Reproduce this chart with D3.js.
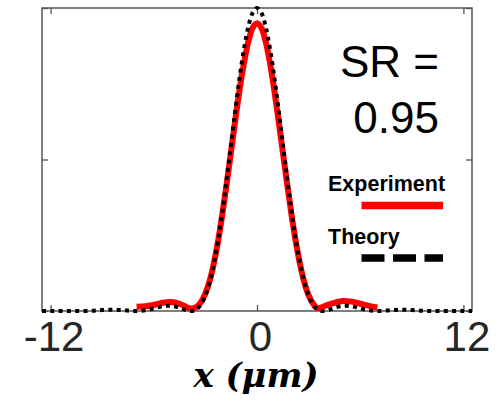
<!DOCTYPE html>
<html>
<head>
<meta charset="utf-8">
<script src="https://cdn.jsdelivr.net/npm/d3@7"></script>
<style>
  html, body { margin: 0; padding: 0; background: #fff; }
  svg { display: block; }
</style>
</head>
<body>
<svg id="chart" width="501" height="401"></svg>
<script>
// Intensity profile across the focal spot (normalised), x in micrometres
const theoryX = [-12.5, -12, -11.5, -11, -10.5, -10, -9.5, -9, -8.5, -8, -7.5, -7, -6.5, -6, -5.5, -5, -4.5, -4.25, -4, -3.75, -3.5, -3.25, -3, -2.75, -2.5, -2.25, -2, -1.75, -1.5, -1.25, -1, -0.75, -0.5, -0.25, 0,
  0.25, 0.5, 0.75, 1, 1.25, 1.5, 1.75, 2, 2.25, 2.5, 2.75, 3, 3.25, 3.5, 3.75, 4, 4.25, 4.5, 5, 5.5, 6, 6.5, 7, 7.5, 8, 8.5, 9, 9.5, 10, 10.5, 11, 11.5, 12, 12.5];
const theoryY = [0, 0, 0, 0, 0.0002, 0.0001, 0.0012, 0.003, 0.0041, 0.0034, 0.0013, 0, 0.0022, 0.0085, 0.0154, 0.0172, 0.0106, 0.0051, 0.0011, 0.0003, 0.0062, 0.022, 0.0511, 0.096, 0.1582, 0.2376, 0.3326, 0.4397, 0.5534, 0.6675, 0.7746, 0.8671, 0.9394, 0.9844, 1,
  0.9844, 0.9394, 0.8671, 0.7746, 0.6675, 0.5534, 0.4397, 0.3326, 0.2376, 0.1582, 0.096, 0.0511, 0.022, 0.0062, 0.0003, 0.0011, 0.0051, 0.0106, 0.0172, 0.0154, 0.0085, 0.0022, 0, 0.0013, 0.0034, 0.0041, 0.003, 0.0012, 0.0001, 0.0002, 0, 0, 0, 0];

const experimentX = [-7, -6.5, -6, -5.5, -5, -4.5, -4, -3.75, -3.5, -3.25, -3, -2.75, -2.5, -2.25, -2, -1.75, -1.5, -1.25, -1, -0.75, -0.5, -0.25, 0,
  0.25, 0.5, 0.75, 1, 1.25, 1.5, 1.75, 2, 2.25, 2.5, 2.75, 3, 3.25, 3.5, 3.75, 4, 4.5, 5, 5.5, 6, 6.5, 7];
const experimentY = [0.014, 0.016, 0.02, 0.027, 0.03, 0.024, 0.01, 0.008, 0.014, 0.03, 0.058, 0.1, 0.16, 0.235, 0.325, 0.425, 0.53, 0.635, 0.735, 0.82, 0.89, 0.935, 0.95,
  0.935, 0.89, 0.82, 0.73, 0.63, 0.525, 0.42, 0.32, 0.23, 0.155, 0.095, 0.052, 0.025, 0.01, 0.012, 0.018, 0.027, 0.033, 0.031, 0.024, 0.017, 0.012];

const xTicks = [-12, 0, 12];
const xTickLabels = ["-12", "0", "12"];
const yTicks = [0, 0.5, 1];
const srLines = ["SR =", "0.95"];
const legendLabels = ["Experiment", "Theory"];
const xLabel = "x (μm)";

const svg = d3.select("#chart");
const plotLeft = 42, plotRight = 472, plotTop = 8, plotBottom = 311;

const x = d3.scaleLinear().domain([-12.5, 12.5]).range([plotLeft, plotRight]);
const y = d3.scaleLinear().domain([0, 1]).range([plotBottom, plotTop]);

const tickFont = "'Liberation Sans', Arial, sans-serif";
const frameColor = "#555";

// frame
svg.append("rect")
  .attr("x", plotLeft).attr("y", plotTop)
  .attr("width", plotRight - plotLeft).attr("height", plotBottom - plotTop)
  .attr("fill", "none").attr("stroke", frameColor).attr("stroke-width", 1.5);

// axes with inward ticks
function styleAxis(g) {
  g.select(".domain").remove();
  g.selectAll(".tick line").attr("stroke", frameColor).attr("stroke-width", 1.3);
}

const gxb = svg.append("g").attr("transform", `translate(0,${plotBottom})`)
  .call(d3.axisBottom(x).tickValues(xTicks).tickSizeInner(-6).tickSizeOuter(0).tickPadding(11)
    .tickFormat((d, i) => xTickLabels[i]));
styleAxis(gxb);
gxb.selectAll(".tick text")
  .attr("font-family", tickFont).attr("font-size", 42).attr("fill", "#262626")
  .attr("dx", 3).attr("dy", "0.7em");

const gxt = svg.append("g").attr("transform", `translate(0,${plotTop})`)
  .call(d3.axisTop(x).tickValues(xTicks).tickSizeInner(-6).tickSizeOuter(0).tickFormat(""));
styleAxis(gxt);

const gyl = svg.append("g").attr("transform", `translate(${plotLeft},0)`)
  .call(d3.axisLeft(y).tickValues(yTicks).tickSizeInner(-6).tickSizeOuter(0).tickFormat(""));
styleAxis(gyl);

const gyr = svg.append("g").attr("transform", `translate(${plotRight},0)`)
  .call(d3.axisRight(y).tickValues(yTicks).tickSizeInner(-6).tickSizeOuter(0).tickFormat(""));
styleAxis(gyr);

// curves
const line = d3.line().x(d => x(d[0])).y(d => y(d[1])).curve(d3.curveCatmullRom.alpha(0.5));

svg.append("path")
  .datum(d3.zip(experimentX, experimentY))
  .attr("d", line)
  .attr("fill", "none").attr("stroke", "#ff0000").attr("stroke-width", 6)
  .attr("stroke-linejoin", "round");

svg.append("path")
  .datum(d3.zip(theoryX, theoryY))
  .attr("d", line)
  .attr("fill", "none").attr("stroke", "#000").attr("stroke-width", 4)
  .attr("stroke-dasharray", "4,4.3");

// Strehl ratio annotation
svg.append("g").selectAll("text").data(srLines).join("text")
  .attr("x", 439).attr("y", (d, i) => 77 + i * 56)
  .attr("text-anchor", "end")
  .attr("font-family", tickFont).attr("font-size", 44).attr("fill", "#000")
  .text(d => d);

// legend
const legendStyles = [
  { stroke: "#ff0000", dash: null },
  { stroke: "#000", dash: "23,8.5" }
];
const lg = svg.append("g").selectAll("g").data(legendLabels).join("g")
  .attr("transform", (d, i) => `translate(0,${i * 52.5})`);
lg.append("text")
  .attr("x", 328).attr("y", 191)
  .attr("font-family", tickFont).attr("font-weight", "bold").attr("font-size", 21.5).attr("fill", "#000")
  .text(d => d);
lg.append("line")
  .attr("x1", 361.5).attr("x2", 443).attr("y1", 205.5).attr("y2", 205.5)
  .attr("stroke", (d, i) => legendStyles[i].stroke)
  .attr("stroke-width", 7.5)
  .attr("stroke-dasharray", (d, i) => legendStyles[i].dash);

// x axis title
svg.append("text")
  .attr("x", 256).attr("y", 387)
  .attr("text-anchor", "middle")
  .attr("font-family", "'DejaVu Serif', serif").attr("font-style", "italic").attr("font-weight", "bold")
  .attr("font-size", 34).attr("fill", "#000")
  .text(xLabel);
</script>
</body>
</html>
